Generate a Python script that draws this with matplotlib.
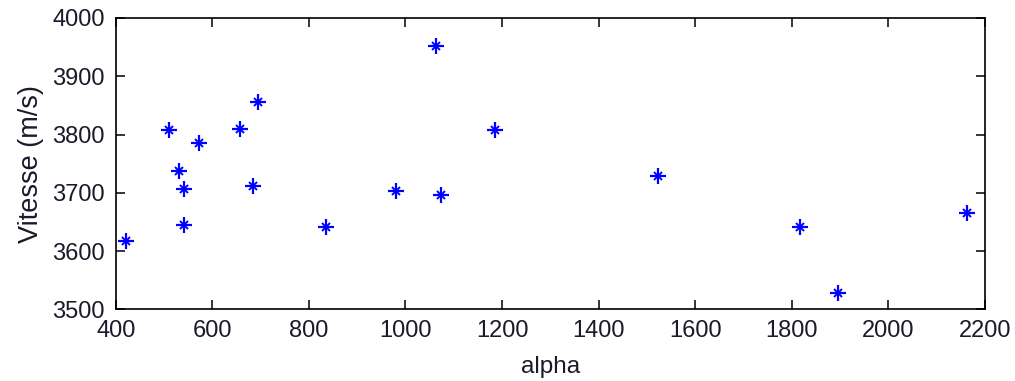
import matplotlib
matplotlib.use("Agg")
import matplotlib.pyplot as plt

alpha = [421, 511, 532, 541, 541, 573, 657, 685, 694, 836, 981, 1064, 1073,
         1185, 1522, 1817, 1896, 2163]
vitesse = [3618, 3807, 3738, 3707, 3645, 3786, 3810, 3712, 3856, 3641, 3703,
           3952, 3696, 3807, 3728, 3642, 3528, 3666]
xticks = [400, 600, 800, 1000, 1200, 1400, 1600, 1800, 2000, 2200]
yticks = [3500, 3600, 3700, 3800, 3900, 4000]

plt.rcParams['font.family'] = ['Liberation Sans', 'DejaVu Sans']

fig = plt.figure(figsize=(10.15, 3.81), dpi=100)
ax = fig.add_axes([0.114, 0.188, 0.9704 - 0.114, 0.9528 - 0.188])

ax.plot(alpha, vitesse, linestyle='none', marker='+', markersize=12,
        markeredgewidth=1.6, color='#0000ff')
ax.plot(alpha, vitesse, linestyle='none', marker='x', markersize=6,
        markeredgewidth=1.4, color='#0000ff')

ax.set_xlim(400, 2200)
ax.set_ylim(3500, 4000)
ax.set_xticks(xticks)
ax.set_yticks(yticks)
ax.tick_params(direction='in', length=6.5, width=1.1, labelsize=17,
               top=True, right=True, pad=8, labelcolor='#1a1a2a')
for s in ax.spines.values():
    s.set_linewidth(1.2)
ax.set_xlabel('alpha', fontsize=17.5, labelpad=10, color='#1a1a2a')
ax.set_ylabel('Vitesse (m/s)', fontsize=19.5, labelpad=6, color='#1a1a2a')

fig.savefig('out.png', dpi=100)
